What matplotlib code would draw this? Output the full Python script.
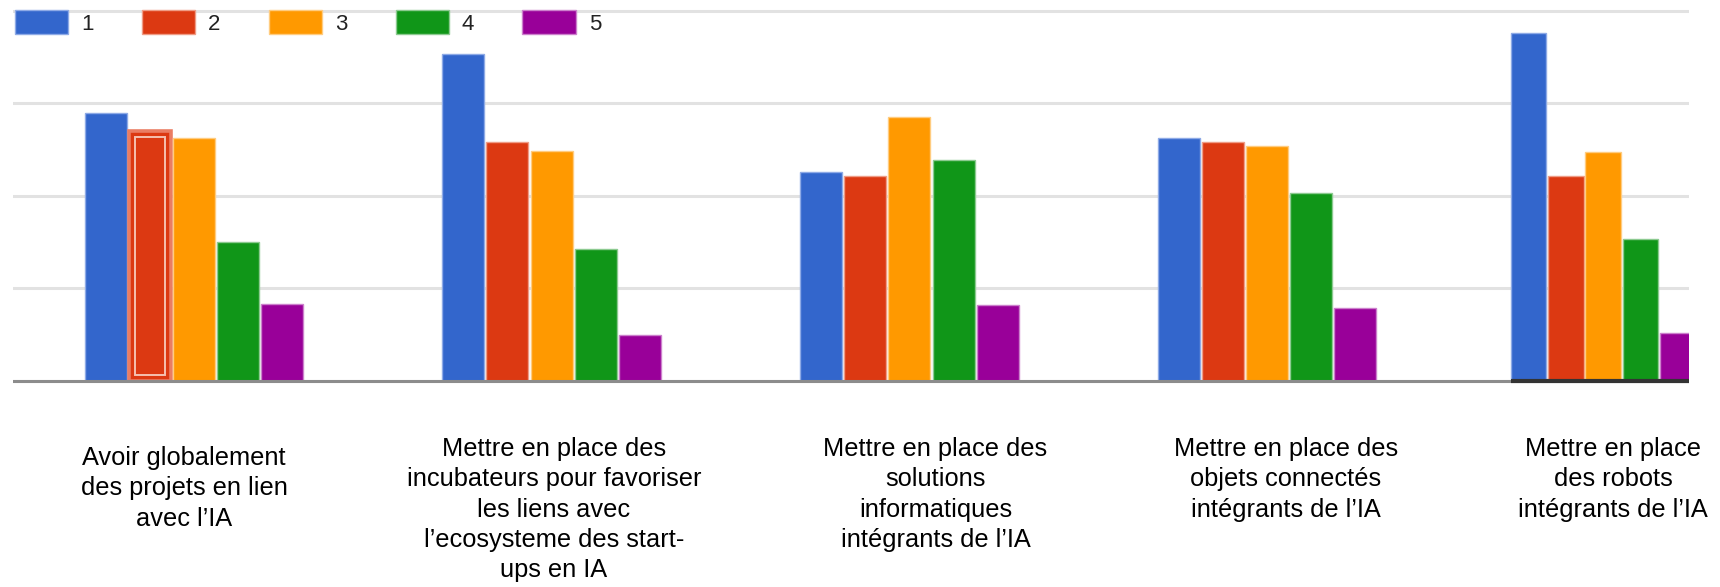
import numpy as np
import matplotlib.pyplot as plt
import matplotlib.transforms as mtransforms
from matplotlib.patches import Patch

plt.rcParams['font.family'] = ['Liberation Sans', 'DejaVu Sans']

# Catégories (actions) et répartition des notes 1 à 5
categories = [
    "Avoir globalement\ndes projets en lien\navec l’IA",
    "Mettre en place des\nincubateurs pour favoriser\nles liens avec\nl’ecosysteme des start-\nups en IA",
    "Mettre en place des\nsolutions\ninformatiques\nintégrants de l’IA",
    "Mettre en place des\nobjets connectés\nintégrants de l’IA",
    "Mettre en place\ndes robots\nintégrants de l’IA",
]
series_names = ["1", "2", "3", "4", "5"]
note_1 = [29.0, 35.4, 22.6, 26.3, 37.6]
note_2 = [27.0, 25.8, 22.2, 25.8, 22.2]
note_3 = [26.3, 24.9, 28.5, 25.4, 24.8]
note_4 = [15.0, 14.3, 23.9, 20.3, 15.3]
note_5 = [8.3, 5.0, 8.2, 7.9, 5.2]
series = [note_1, note_2, note_3, note_4, note_5]

colors = ['#3366cc', '#dc3912', '#ff9900', '#109618', '#990099']
edges = ['#8eaae6', '#ef9c86', '#ffcc80', '#8cca90', '#cc80cc']

W, H = 1720, 587
fig = plt.figure(figsize=(W / 100, H / 100), dpi=100)
fig.patch.set_facecolor('white')
ax = fig.add_axes([13 / W, 0.3455, (1689 - 13) / W, 0.6405])

# position des groupes ; le dernier groupe est plus serré
group_x = np.arange(len(categories), dtype=float)
group_x[-1] -= 0.06
pitch = np.array([0.1236, 0.1236, 0.1236, 0.1236, 0.104])
widths = pitch * 0.95

bars = []
for j, (vals, c, e, name) in enumerate(zip(series, colors, edges, series_names)):
    xs = group_x + (j - 2) * pitch
    b = ax.bar(xs, vals, width=widths, color=c, edgecolor=e, linewidth=1.0,
               zorder=3, label=name)
    bars.append(b)

# barre survolée (note 2, premier groupe) : bordure claire + liseré intérieur
hl = bars[1][0]
hl.set_edgecolor('#ea7d63')
hl.set_linewidth(2.6)
dx, dy = 0.017, 0.65
ax.bar(hl.get_x() + hl.get_width() / 2, hl.get_height() - 2 * dy, bottom=dy,
       width=hl.get_width() - 2 * dx, fill=False, edgecolor='#f5c0b0',
       linewidth=1.4, zorder=4)

ax.set_xlim(-0.506, 4.18)
ax.set_ylim(-0.35, 40.3)
ax.set_yticks([0, 10, 20, 30, 40])
ax.yaxis.grid(True, color='#e2e2e2', linewidth=2.2)
ax.set_axisbelow(True)
ax.tick_params(axis='y', left=False, labelleft=False)
ax.set_xticks([])
for s in ax.spines.values():
    s.set_visible(False)

# ligne de base, plus sombre sous le dernier groupe
ax.axhline(0, color='#8c8c8c', linewidth=2.2, zorder=5)
ax.hlines(0, bars[0][-1].get_x(), 4.18, color='#333333', linewidth=3, zorder=6)

# libellés des catégories sous l'axe (légers décalages par rapport aux groupes)
label_dx = [-0.028, 0.006, 0.073, 0.053, 0.028]
label_dy = [-9, 0, 0, 0, 0]   # en pixels
trans = mtransforms.blended_transform_factory(ax.transData, fig.transFigure)
for gx, txt, ddx, ddy in zip(group_x, categories, label_dx, label_dy):
    ax.text(gx + ddx, 1 - (437 - ddy) / H, txt, transform=trans,
            ha='center', va='top', fontsize=18.3, linespacing=1.33,
            multialignment='center', color='black')

handles = [Patch(facecolor=c, edgecolor=e, linewidth=1.0)
           for c, e in zip(colors, edges)]
leg = ax.legend(handles=handles, labels=series_names, ncol=5, loc='upper left',
                bbox_to_anchor=(15 / W, 1 - 10 / H),
                bbox_transform=fig.transFigure, frameon=False, fontsize=16,
                handlelength=2.39, handleheight=1.3, handletextpad=0.59,
                columnspacing=2.17, borderpad=0, borderaxespad=0)
for t in leg.get_texts():
    t.set_color('#222222')

fig.savefig('out.png', dpi=100, facecolor='white')
